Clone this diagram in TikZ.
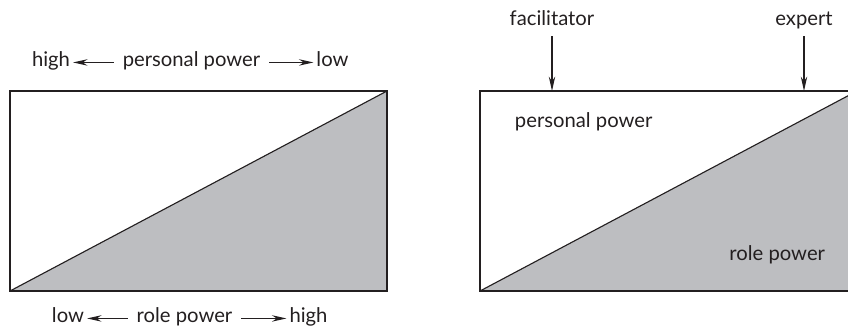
\documentclass[tikz,border=0pt]{standalone}
\usepackage{fontspec}
\setmainfont{Lato}
\usetikzlibrary{arrows.meta}
\definecolor{InkBlack}{RGB}{35,31,32}
\definecolor{RoleGray}{RGB}{189,190,193}
\tikzset{
  pbox/.style={draw=InkBlack, line width=1.1pt, minimum width=9.425cm, minimum height=5cm,
    inner sep=0pt, outer sep=0pt},
  rolefill/.style={fill=RoleGray},
  diag/.style={draw=InkBlack, line width=0.8pt},
  edge/.style={draw=InkBlack, line width=1.1pt},
  lbl/.style={font=\fontsize{14.4}{17}\selectfont, text=InkBlack, anchor=base},
  endlbl/.style={lbl, inner xsep=2pt},
  midlbl/.style={lbl, inner xsep=0.22cm},
  toplbl/.style={lbl, text depth=0.3em, inner ysep=0.17cm},
  arr/.style={-{Stealth[length=0.36cm, width=0.16cm]}, line width=0.85pt, InkBlack},
}
\begin{document}
\begin{tikzpicture}[x=0.025cm, y=-0.025cm]
  \useasboundingbox (0,0) rectangle (848,332);
  \clip (0,0) rectangle (848,332);

  % left box: personal power against role power
  \node[pbox] (boxL) at (198.5,191) {};
  \fill[rolefill] (boxL.south west) -- (boxL.north east) -- (boxL.south east) -- cycle;
  \draw[diag] (boxL.south west) -- (boxL.north east);
  \draw[edge] (boxL.south west) rectangle (boxL.north east);

  \node[endlbl] (ppHigh) at (51,66) {high};
  \node[midlbl] (ppL) at (191.5,66) {personal power};
  \node[endlbl] (ppLow) at (332.5,66) {low};
  \draw[arr] (ppL.mid west) -- (ppHigh.mid east);
  \draw[arr] (ppL.mid east) -- (ppLow.mid west);

  \node[endlbl] (rpLow) at (68,322) {low};
  \node[midlbl] (rpL) at (184.5,322) {role power};
  \node[endlbl] (rpHigh) at (308.5,322) {high};
  \draw[arr] (rpL.mid west) -- (rpLow.mid east);
  \draw[arr] (rpL.mid east) -- (rpHigh.mid west);

  % right box: the two ends
  \node[pbox] (boxR) at (668.5,191) {};
  \fill[rolefill] (boxR.south west) -- (boxR.north east) -- (boxR.south east) -- cycle;
  \draw[diag] (boxR.south west) -- (boxR.north east);
  \draw[edge] (boxR.south west) rectangle (boxR.north east);

  \node[lbl, anchor=base west] (ppR) at (510,127) {personal power};
  \node[lbl, anchor=base east] (rpR) at (830,260) {role power};

  \node[toplbl] (fac) at (552,25) {facilitator};
  \node[toplbl] (exp) at (804,25) {expert};
  \draw[arr] (fac.south) -- (fac.south |- boxR.north);
  \draw[arr] (exp.south) -- (exp.south |- boxR.north);
\end{tikzpicture}
\end{document}
